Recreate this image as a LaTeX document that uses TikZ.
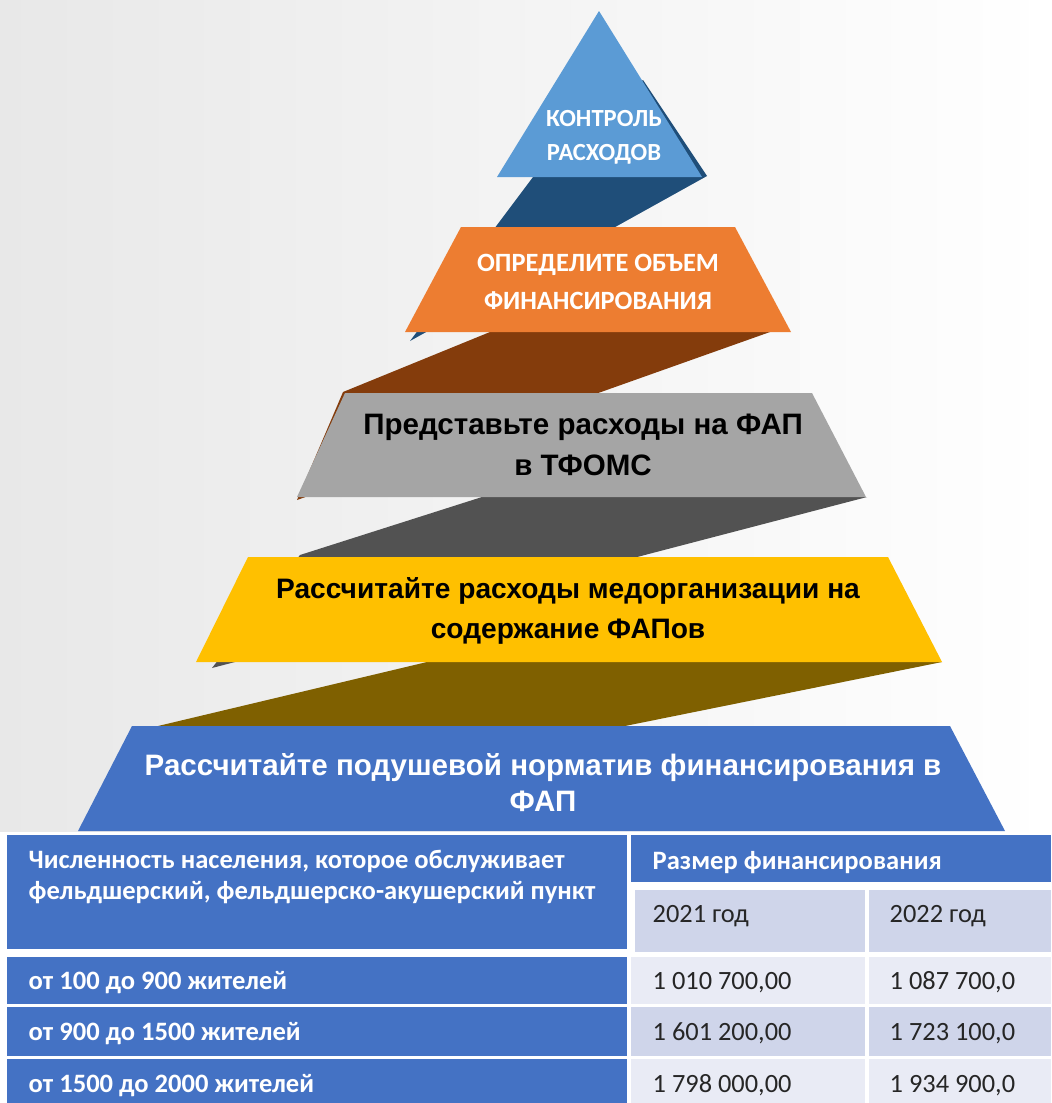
\documentclass[tikz,border=0pt]{standalone}
\usepackage{fontspec}
\setmainfont{Carlito}
\newfontfamily\arialfont{Liberation Sans}
\usepackage{tikz}

\definecolor{topblue}{HTML}{5B9BD5}
\definecolor{topshade}{HTML}{1F4E79}
\definecolor{finorange}{HTML}{ED7D31}
\definecolor{finshade}{HTML}{843C0C}
\definecolor{tfgray}{HTML}{A5A5A5}
\definecolor{tfshade}{HTML}{525252}
\definecolor{calcyellow}{HTML}{FFC000}
\definecolor{calcshade}{HTML}{7F6000}
\definecolor{normblue}{HTML}{4472C4}
\definecolor{tabdark}{HTML}{CFD5EA}
\definecolor{tablight}{HTML}{E9EBF5}

\begin{document}
\begin{tikzpicture}
  [x=0.01cm,y=-0.01cm,
   capw/.style={font=\bfseries\fontsize{7}{9.6}\selectfont,text=white,align=center},
   lvl/.style={font=\arialfont\bfseries\fontsize{8.4}{11.6}\selectfont,align=center},
   head/.style={anchor=base west,inner sep=0pt,font=\bfseries\fontsize{7.55}{8.8}\selectfont,text=white,align=left},
   val/.style={anchor=base west,inner sep=0pt,font=\fontsize{7.5}{8.8}\selectfont,text=black!85}]
  \useasboundingbox (0,0) rectangle (1051,1103);
  \fill[left color=black!9,right color=white] (0,0) rectangle (1051,1103);

  % ribbons behind the steps
  \fill[topshade]   (533,177) -- (643,80) -- (707,176) -- (410,341) -- cycle;
  \fill[finshade]   (490,332) -- (770,332) -- (297,500) -- (343,392) -- cycle;
  \fill[tfshade]    (482,497) -- (867,497) -- (212,668) -- (300,555) -- cycle;
  \fill[calcshade]  (427,662) -- (942,662) -- (625,726) -- (158,726) -- cycle;

  % steps
  \fill[topblue]    (497,177) -- (599,11) -- (702,177) -- cycle;
  \fill[finorange]  (461,227) -- (735,227) -- (791,332) -- (405,332) -- cycle;
  \fill[tfgray]     (345,393) -- (812,393) -- (866,497) -- (297,497) -- cycle;
  \fill[calcyellow] (248,557) -- (888,557) -- (942,662) -- (196,662) -- cycle;
  \fill[normblue]   (132,726) -- (950,726) -- (1005,831) -- (78,831) -- cycle;

  \node[capw] (ctrl) at (604,137) {КОНТРОЛЬ\\РАСХОДОВ};
  \node[capw,font=\bfseries\fontsize{7.5}{10.8}\selectfont] (fin) at (598,282) {ОПРЕДЕЛИТЕ ОБЪЕМ\\ФИНАНСИРОВАНИЯ};
  \node[lvl] (tfoms) at (583,445) {Представьте расходы на ФАП\\в ТФОМС};
  \node[lvl,font=\arialfont\bfseries\fontsize{8}{11.4}\selectfont] (calc) at (568,611)
    {Рассчитайте расходы медорганизации на\\содержание ФАПов};
  \node[lvl,text=white,font=\arialfont\bfseries\fontsize{8.4}{10.2}\selectfont] (norm) at (543,783)
    {Рассчитайте подушевой норматив финансирования в\\ФАП};

  % table
  \fill[white] (0,832) rectangle (1051,1103);
  \fill[normblue] (7,835) rectangle (627,949);
  \fill[normblue] (631,835) rectangle (1051,882);
  \fill[tabdark]  (635,890) rectangle (865,952);
  \fill[tabdark]  (869,890) rectangle (1051,952);
  \fill[normblue] (7,957) rectangle (627,1004);
  \fill[tablight] (631,957) rectangle (865,1004);
  \fill[tablight] (869,957) rectangle (1051,1004);
  \fill[normblue] (7,1007) rectangle (627,1056);
  \fill[tabdark]  (631,1007) rectangle (865,1056);
  \fill[tabdark]  (869,1007) rectangle (1051,1056);
  \fill[normblue] (7,1059) rectangle (627,1103);
  \fill[tablight] (631,1059) rectangle (865,1103);
  \fill[tablight] (869,1059) rectangle (1051,1103);

  \node[head,anchor=west] (pop) at (28,877) {Численность населения, которое обслуживает\\фельдшерский, фельдшерско-акушерский пункт};
  \node[head] (size) at (652,869) {Размер финансирования};
  \node[val] (y21) at (652,922) {2021 год};
  \node[val] (y22) at (889,922) {2022 год};

  \node[head] (r1) at (28,989) {от 100 до 900 жителей};
  \node[val] (r1a) at (652,989) {1 010 700,00};
  \node[val] (r1b) at (889,989) {1 087 700,0};
  \node[head] (r2) at (28,1040) {от 900 до 1500 жителей};
  \node[val] (r2a) at (652,1040) {1 601 200,00};
  \node[val] (r2b) at (889,1040) {1 723 100,0};
  \node[head] (r3) at (28,1092) {от 1500 до 2000 жителей};
  \node[val] (r3a) at (652,1092) {1 798 000,00};
  \node[val] (r3b) at (889,1092) {1 934 900,0};
\end{tikzpicture}
\end{document}
